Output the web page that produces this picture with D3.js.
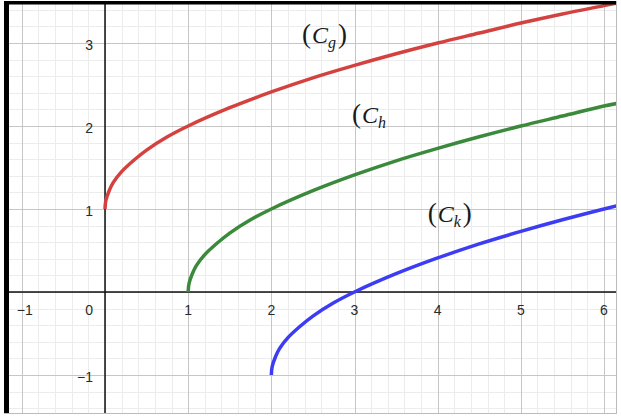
<!DOCTYPE html>
<html>
<head>
<meta charset="utf-8">
<script src="https://cdn.jsdelivr.net/npm/d3@7"></script>
<style>
	body { margin: 0; background: #fff; }
	.tick-label { font-family: "Liberation Sans", Arial, sans-serif; font-size: 14px; fill: #2a2a2a; }
	.curve-label { font-family: "Liberation Serif", "DejaVu Serif", serif; font-size: 24px; fill: #1a1a1a; }
</style>
</head>
<body>
<svg id="chart"></svg>
<script>
// values
const gX = [0, 0.01, 0.05, 0.1, 0.2, 0.35, 0.5, 0.75, 1, 1.5, 2, 2.5, 3, 3.5, 4, 4.5, 5, 5.5, 6, 6.2]
const gY = [1, 1.10, 1.22, 1.32, 1.45, 1.59, 1.71, 1.87, 2.00, 2.22, 2.41, 2.58, 2.73, 2.87, 3.00, 3.12, 3.24, 3.35, 3.45, 3.49]

const hX = [1, 1.01, 1.05, 1.1, 1.2, 1.35, 1.5, 1.75, 2, 2.5, 3, 3.5, 4, 4.5, 5, 5.5, 6, 6.2]
const hY = [0, 0.10, 0.22, 0.32, 0.45, 0.59, 0.71, 0.87, 1.00, 1.22, 1.41, 1.58, 1.73, 1.87, 2.00, 2.12, 2.24, 2.28]

const kX = [2, 2.01, 2.05, 2.1, 2.2, 2.35, 2.5, 2.75, 3, 3.5, 4, 4.5, 5, 5.5, 6, 6.2]
const kY = [-1, -0.90, -0.78, -0.68, -0.55, -0.41, -0.29, -0.13, 0, 0.22, 0.41, 0.58, 0.73, 0.87, 1.00, 1.05]

const xTicks = [-1, 1, 2, 3, 4, 5, 6]
const yTicks = [-1, 1, 2, 3]

const curveNames = ["g", "h", "k"]
const curveColors = ["#d4423f", "#3b8a3b", "#3c3cf5"]
// where each (C_..) label sits, in graph units
const labelX = [2.37, 2.97, 3.88]
const labelY = [3.0, 2.04, 0.84]
const labelClosed = [true, false, true]

function drawGraph() {
	const viewWidth = 621
	const viewHeight = 416
	const plot = { left: 9, right: 616, top: 4, bottom: 413 }

	const svg = d3.select("#chart")
		.attr("width", viewWidth)
		.attr("height", viewHeight)

	const x = d3.scaleLinear()
		.domain([0, 6])
		.range([105, 604])

	const y = d3.scaleLinear()
		.domain([0, 3])
		.range([292, 43])

	svg.append("defs").append("clipPath")
		.attr("id", "clip")
		.append("rect")
		.attr("x", plot.left)
		.attr("y", plot.top)
		.attr("width", plot.right - plot.left)
		.attr("height", plot.bottom - plot.top)

	const g = svg.append("g").attr("clip-path", "url(#clip)")

	// grid: minor every 0.2, major every 1
	const xMin = Math.floor(x.invert(plot.left)), xMax = Math.ceil(x.invert(plot.right))
	const yMin = Math.floor(y.invert(plot.bottom)), yMax = Math.ceil(y.invert(plot.top))
	const minorX = d3.range(xMin * 5, xMax * 5 + 1).map(d => d / 5).filter(d => Math.round(d * 5) % 5 != 0)
	const minorY = d3.range(yMin * 5, yMax * 5 + 1).map(d => d / 5).filter(d => Math.round(d * 5) % 5 != 0)
	const majorX = d3.range(xMin, xMax + 1)
	const majorY = d3.range(yMin, yMax + 1)

	g.selectAll(".minor-x").data(minorX).enter().append("line")
		.attr("x1", d => Math.round(x(d)) + 0.5).attr("x2", d => Math.round(x(d)) + 0.5)
		.attr("y1", plot.top).attr("y2", plot.bottom)
		.attr("stroke", "#ececec")
	g.selectAll(".minor-y").data(minorY).enter().append("line")
		.attr("y1", d => Math.round(y(d)) + 0.5).attr("y2", d => Math.round(y(d)) + 0.5)
		.attr("x1", plot.left).attr("x2", plot.right)
		.attr("stroke", "#ececec")
	g.selectAll(".major-x").data(majorX).enter().append("line")
		.attr("x1", d => Math.round(x(d)) + 0.5).attr("x2", d => Math.round(x(d)) + 0.5)
		.attr("y1", plot.top).attr("y2", plot.bottom)
		.attr("stroke", "#c6c6c6")
	g.selectAll(".major-y").data(majorY).enter().append("line")
		.attr("y1", d => Math.round(y(d)) + 0.5).attr("y2", d => Math.round(y(d)) + 0.5)
		.attr("x1", plot.left).attr("x2", plot.right)
		.attr("stroke", "#c6c6c6")

	// axes
	g.append("line")
		.attr("x1", plot.left).attr("x2", plot.right)
		.attr("y1", y(0)).attr("y2", y(0))
		.attr("stroke", "#111").attr("stroke-width", 1.5)
	g.append("line")
		.attr("x1", x(0)).attr("x2", x(0))
		.attr("y1", plot.top).attr("y2", plot.bottom)
		.attr("stroke", "#111").attr("stroke-width", 1.5)

	// curves
	const series = [
		gX.map((d, i) => [d, gY[i]]),
		hX.map((d, i) => [d, hY[i]]),
		kX.map((d, i) => [d, kY[i]])
	]

	const line = d3.line()
		.x(d => x(d[0]))
		.y(d => y(d[1]))
		.curve(d3.curveCatmullRom.alpha(0.5))

	g.selectAll(".curve")
		.data(series)
		.enter()
		.append("path")
		.attr("class", "curve")
		.attr("d", line)
		.attr("fill", "none")
		.attr("stroke", (d, i) => curveColors[i])
		.attr("stroke-width", 3.5)
		.attr("stroke-linecap", "butt")

	// tick labels
	svg.selectAll(".xlab")
		.data(xTicks)
		.enter()
		.append("text")
		.attr("class", "tick-label")
		.attr("x", d => x(d) + (d < 0 ? 3 : 0))
		.attr("y", y(0) + 23)
		.attr("text-anchor", "middle")
		.text(d => d < 0 ? "\u2212" + Math.abs(d) : d)

	svg.append("text")
		.attr("class", "tick-label")
		.attr("x", x(0) - 12)
		.attr("y", y(0) + 23)
		.attr("text-anchor", "end")
		.text("0")

	svg.selectAll(".ylab")
		.data(yTicks)
		.enter()
		.append("text")
		.attr("class", "tick-label")
		.attr("x", x(0) - 12)
		.attr("y", d => y(d) + 7)
		.attr("text-anchor", "end")
		.text(d => d < 0 ? "\u2212" + Math.abs(d) : d)

	// (C_g), (C_h, (C_k)
	const labels = svg.selectAll(".curve-label")
		.data(curveNames)
		.enter()
		.append("text")
		.attr("class", "curve-label")
		.attr("x", (d, i) => x(labelX[i]))
		.attr("y", (d, i) => y(labelY[i]))

	labels.append("tspan").attr("font-size", 27).text("(")
	labels.append("tspan").attr("font-style", "italic").attr("dx", 1).text("C")
	labels.append("tspan")
		.attr("font-style", "italic")
		.attr("font-size", 16)
		.attr("dy", 5)
		.text(d => d)
	labels.filter((d, i) => labelClosed[i])
		.append("tspan").attr("font-size", 27).attr("dy", -5).attr("dx", 2).text(")")

	// frame
	svg.append("rect")
		.attr("x", 4).attr("y", 1)
		.attr("width", 5).attr("height", plot.bottom)
		.attr("fill", "#000")
	svg.append("rect")
		.attr("x", 4).attr("y", 1)
		.attr("width", plot.right - 4).attr("height", 3.5)
		.attr("fill", "#000")
	svg.append("line")
		.attr("x1", plot.right + 0.5).attr("x2", plot.right + 0.5)
		.attr("y1", 1).attr("y2", plot.bottom + 1)
		.attr("stroke", "#bbb")
	svg.append("line")
		.attr("x1", 4).attr("x2", plot.right + 1)
		.attr("y1", plot.bottom + 0.5).attr("y2", plot.bottom + 0.5)
		.attr("stroke", "#bbb")
}

drawGraph();
</script>
</body>
</html>
